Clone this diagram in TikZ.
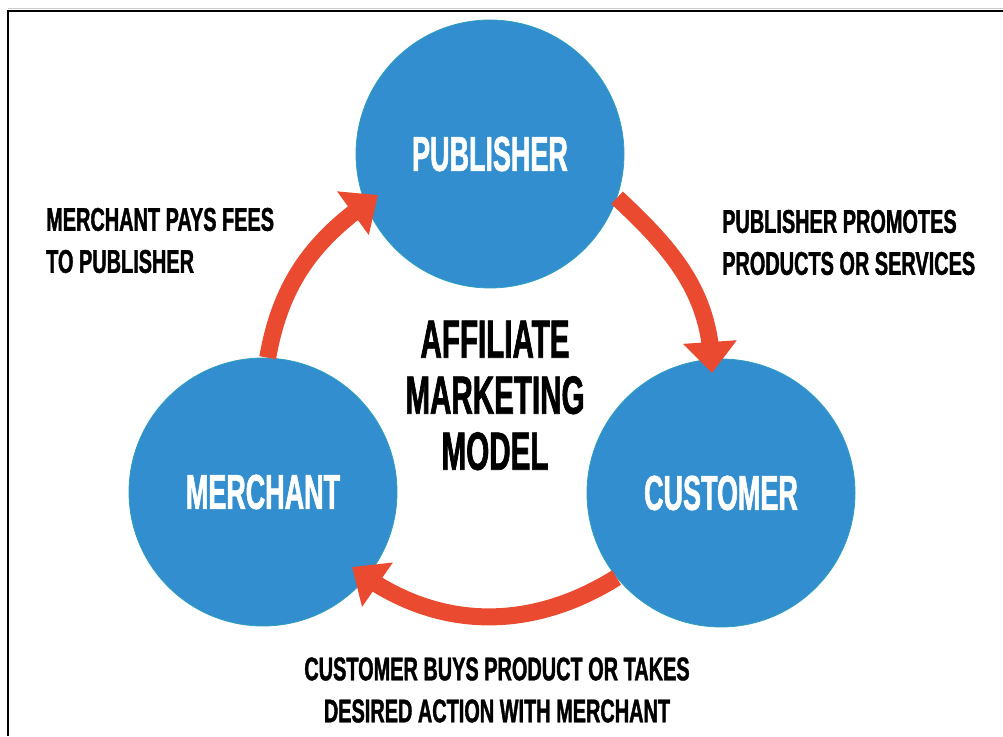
\documentclass[tikz,border=0pt]{standalone}
\usepackage{fontspec}
\usepackage{tikz}
\usetikzlibrary{arrows.meta}
\usetikzlibrary{bending}

\newfontfamily\bigfont[FakeStretch=0.55, FakeBold=1.2]{Liberation Sans}
\newfontfamily\smallfont[FakeStretch=0.607, FakeBold=1.2]{Liberation Sans}
\definecolor{circblue}{RGB}{50,142,206}
\definecolor{circrim}{RGB}{48,160,190}
\definecolor{arrowred}{RGB}{234,74,47}

\begin{document}
\begin{tikzpicture}[x=1pt, y=1pt,
    actor/.style={circle, fill=circblue, draw=circrim, line width=0.8pt,
        minimum size=268pt, inner sep=0pt, text=white,
        font=\bigfont\bfseries\fontsize{49}{49}\selectfont},
    flow/.style={draw=arrowred, line width=17pt,
        -{Triangle[width=52pt, length=31pt]}},
    note/.style={inner sep=0pt,
        font=\smallfont\bfseries\fontsize{32.8}{42}\selectfont}]
    \useasboundingbox (0,0) rectangle (1003,736);

    % Marco
    \draw[gray!40, line width=0.8pt] (7.8,727.6) -- (1003,727.6);
    \draw[line width=2pt] (7.8,0) -- (7.8,725) -- (1003,725);

    % Circulos
    \node[actor] (pub) at (490,582) {PUBLISHER};
    \node[actor] (mer) at (263,244) {MERCHANT};
    \node[actor] (cus) at (721,243) {CUSTOMER};

    % Puntas de las flechas
    \coordinate (tipP) at (378,541);
    \coordinate (tipC) at (712,363);
    \coordinate (tipM) at (352,169);

    % Flechas
    \draw[flow] (mer.88) to[out=80, in=214] (tipP);
    \draw[flow] (pub.-19) to[out=-43, in=90] (tipC);
    \draw[flow] (cus.219) to[out=212, in=-38] (tipM);

    % Titulo
    \node[align=center, inner sep=0pt,
        font=\bigfont\bfseries\fontsize{53.8}{56}\selectfont]
        (title) at (495,340.5) {AFFILIATE\\MARKETING\\MODEL};

    % Etiquetas
    \node[note, anchor=west, align=left] (paylbl) at (46,495.5)
        {MERCHANT PAYS FEES\\TO PUBLISHER};
    \node[note, anchor=west, align=left] (promolbl) at (722,493.5)
        {PUBLISHER PROMOTES\\PRODUCTS OR SERVICES};
    \node[note, align=center] (buylbl) at (497,46)
        {CUSTOMER BUYS PRODUCT OR TAKES\\DESIRED ACTION WITH MERCHANT};
\end{tikzpicture}
\end{document}
